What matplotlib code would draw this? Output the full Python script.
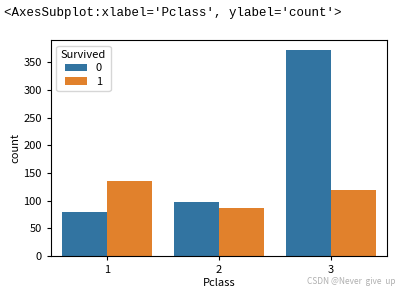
import matplotlib
matplotlib.use("Agg")
import matplotlib.pyplot as plt
import numpy as np

pclass = ["1", "2", "3"]
survived_labels = ["0", "1"]
counts_0 = [80, 97, 372]
counts_1 = [136, 87, 119]
colors = ["#3274a1", "#e1812c"]

plt.rcParams['font.family'] = ['Noto Sans CJK SC', 'DejaVu Sans']
fig = plt.figure(figsize=(4.10, 2.96), dpi=100)
ax = fig.add_axes([0.124, 0.135, 0.820, 0.730])

x = np.arange(len(pclass))
w = 0.4
ax.bar(x - w/2, counts_0, width=w, color=colors[0], label=survived_labels[0])
ax.bar(x + w/2, counts_1, width=w, color=colors[1], label=survived_labels[1])
ax.set_xticks(x)
ax.set_xticklabels(pclass)
ax.set_xlim(-0.5, 2.5)
ax.set_ylim(0, 390.6)
ax.set_yticks(range(0, 351, 50))
ax.tick_params(labelsize=8, length=3, width=0.8)
ax.set_xlabel("Pclass", fontsize=8, labelpad=2)
ax.set_ylabel("count", fontsize=8, labelpad=2)
for s in ax.spines.values():
    s.set_linewidth(0.8)
leg = ax.legend(title="Survived", loc="upper left", fontsize=8, title_fontsize=8,
                handlelength=2, borderpad=0.4, labelspacing=0.3)

fig.text(0.01, 0.975, "<AxesSubplot:xlabel='Pclass', ylabel='count'>",
         fontsize=9, va="top", ha="left", family=["Liberation Mono", "DejaVu Sans Mono"])
fig.text(0.965, 0.035, "CSDN @Never  give  up", fontsize=6, color="#b0b0b0",
         ha="right", va="bottom")

fig.savefig("out.png", dpi=100)
